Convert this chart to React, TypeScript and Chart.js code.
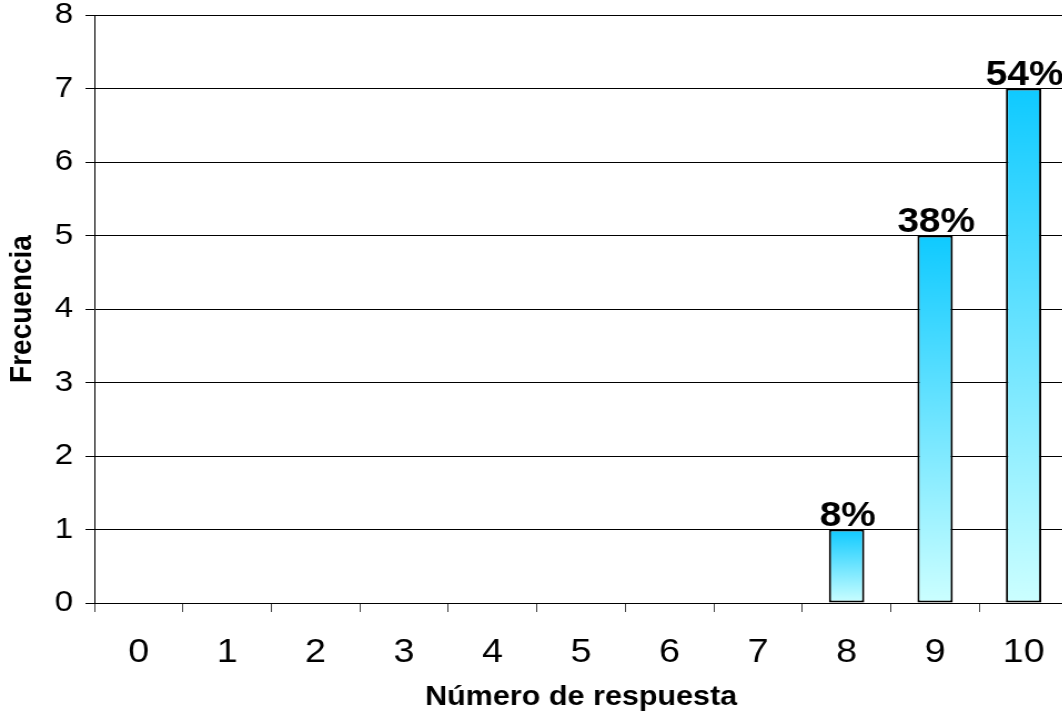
import React, { useEffect, useRef } from "react";
import { Chart, registerables } from "chart.js";

Chart.register(...registerables);

// Answer number (0–10) and how many respondents chose it
const categories = ["0", "1", "2", "3", "4", "5", "6", "7", "8", "9", "10"];
const frequencies = [0, 0, 0, 0, 0, 0, 0, 0, 1, 5, 7];
const yMin = 0;
const yMax = 8;
const yStep = 1;

const xTitle = "Número de respuesta";
const yTitle = "Frecuencia";

const FONT = '"Liberation Sans", Arial, Helvetica, sans-serif';
const BAR_TOP = "#0FCAFF";
const BAR_BOTTOM = "#CCFFFF";

// The drawing is rendered narrow and widened with a horizontal scale
const STRETCH = 1.11;
const CANVAS_W = 962;
const CANVAS_H = 715;

const total = frequencies.reduce((a, b) => a + b, 0);
const percentLabels = frequencies.map((v) =>
  v > 0 ? `${Math.round((v / total) * 100)}%` : ""
);

const percentLabelPlugin = {
  id: "percentLabels",
  afterDatasetsDraw(chart: any) {
    const ctx = chart.ctx;
    const meta = chart.getDatasetMeta(0);
    ctx.save();
    ctx.font = `bold 35px ${FONT}`;
    ctx.fillStyle = "#000";
    ctx.textAlign = "center";
    ctx.textBaseline = "alphabetic";
    meta.data.forEach((bar: any, i: number) => {
      const text = percentLabels[i];
      if (!text) return;
      ctx.fillText(text, bar.x + 1, bar.y - 4);
    });
    ctx.restore();
  },
};

export default function App() {
  const canvasRef = useRef<HTMLCanvasElement | null>(null);

  useEffect(() => {
    const canvas = canvasRef.current;
    if (!canvas) return;
    const chart = new Chart(canvas, {
      type: "bar",
      data: {
        labels: categories,
        datasets: [
          {
            data: frequencies,
            backgroundColor: (c: any) => {
              const ch = c.chart;
              if (!ch.chartArea || c.type !== "data") return BAR_TOP;
              const ys = ch.scales.y;
              const top = ys.getPixelForValue(c.raw as number);
              const base = ys.getPixelForValue(0);
              if (base - top < 1) return BAR_BOTTOM;
              const g = ch.ctx.createLinearGradient(0, top, 0, base);
              g.addColorStop(0, BAR_TOP);
              g.addColorStop(1, BAR_BOTTOM);
              return g;
            },
            borderColor: "#000",
            borderWidth: (c: any) => (c.raw > 0 ? 2 : 0),
            borderSkipped: false,
            barPercentage: 0.4,
            categoryPercentage: 1,
          },
        ],
      },
      options: {
        animation: false,
        responsive: true,
        maintainAspectRatio: false,
        layout: { padding: { top: 15, left: 0, right: 0, bottom: 0 } },
        plugins: {
          legend: { display: false },
          tooltip: { enabled: false },
        },
        scales: {
          x: {
            offset: true,
            grid: {
              display: true,
              offset: true,
              drawOnChartArea: false,
              drawTicks: true,
              tickLength: 9,
              color: "#444",
              lineWidth: 1,
            },
            border: { display: true, color: "#000", width: 1 },
            ticks: {
              color: "#000",
              padding: 20,
              maxRotation: 0,
              autoSkip: false,
              font: { family: FONT, size: 34 },
            },
            title: {
              display: true,
              text: xTitle,
              color: "#000",
              padding: { top: 0, bottom: 1 },
              font: { family: FONT, size: 27.5, weight: "bold" },
            },
            afterFit: (scale: any) => {
              scale.height = 112;
              scale.paddingLeft = 0;
              scale.paddingRight = 0;
            },
          },
          y: {
            min: yMin,
            max: yMax,
            grid: {
              color: "#000",
              lineWidth: 1,
              drawTicks: true,
              tickLength: 8,
            },
            border: { display: true, color: "#000", width: 1 },
            ticks: {
              stepSize: yStep,
              color: "#000",
              padding: 11,
              font: { family: FONT, size: 30, lineHeight: 1 },
            },
            title: {
              display: true,
              text: yTitle,
              color: "#000",
              padding: { top: 3, bottom: 0 },
              font: { family: FONT, size: 28, weight: "bold" },
            },
            afterFit: (scale: any) => {
              scale.width = 85;
              scale.paddingTop = 0;
              scale.paddingBottom = 0;
            },
          },
        },
      },
      plugins: [percentLabelPlugin],
    });
    return () => chart.destroy();
  }, []);

  return (
    <div
      style={{
        position: "fixed",
        left: 0,
        top: 0,
        width: 1062,
        height: 715,
        overflow: "hidden",
        background: "#fff",
      }}
    >
      <div
        style={{
          width: CANVAS_W,
          height: CANVAS_H,
          transform: `scaleX(${STRETCH})`,
          transformOrigin: "0 0",
        }}
      >
        <canvas ref={canvasRef} />
      </div>
    </div>
  );
}
